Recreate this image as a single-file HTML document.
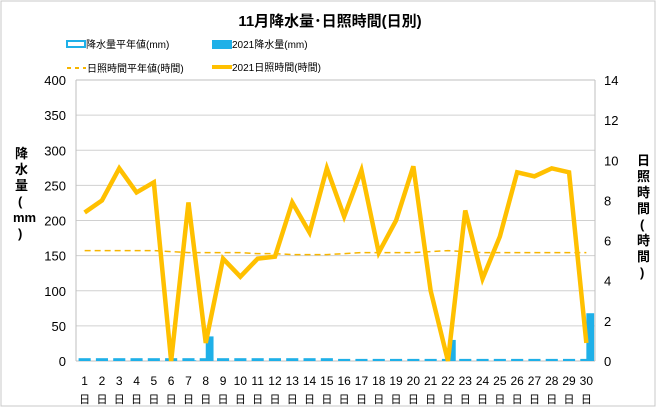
<!DOCTYPE html>
<html><head><meta charset="utf-8"><style>
body{margin:0;background:#fff;}
svg text{font-family:"Liberation Sans","Noto Sans CJK JP",sans-serif;}
</style></head><body>
<svg width="660" height="408" id="c">
<rect x="1" y="1" width="654" height="405" fill="#fff" stroke="#c8c8c8"/>
<text x="330" y="26" font-size="15" font-weight="bold" text-anchor="middle">11月降水量･日照時間(日別)</text>
<g font-size="10">
<rect x="67" y="41" width="18" height="6" fill="#fff" stroke="#1fb0e8" stroke-width="2"/>
<text x="86" y="48">降水量平年値(mm)</text>
<rect x="212" y="40" width="20" height="9" fill="#1fb0e8"/>
<text x="232" y="48">2021降水量(mm)</text>
<line x1="67" y1="68" x2="86" y2="68" stroke="#f7b500" stroke-width="2" stroke-dasharray="4,4"/>
<text x="87" y="72">日照時間平年値(時間)</text>
<line x1="212" y1="67" x2="232" y2="67" stroke="#ffc000" stroke-width="4"/>
<text x="232" y="71">2021日照時間(時間)</text>
</g>
<text font-size="13" font-weight="bold"><tspan x="15" y="158">降</tspan><tspan x="15" dy="16">水</tspan><tspan x="15" dy="16">量</tspan><tspan x="18" dy="16">(</tspan><tspan x="13" dy="16">mm</tspan><tspan x="18" dy="16">)</tspan></text>
<text font-size="13" font-weight="bold"><tspan x="637" y="165">日</tspan><tspan x="637" dy="16">照</tspan><tspan x="637" dy="16">時</tspan><tspan x="637" dy="16">間</tspan><tspan x="640" dy="16">(</tspan><tspan x="637" dy="16">時</tspan><tspan x="637" dy="16">間</tspan><tspan x="640" dy="16">)</tspan></text>
<g id="plot"></g>
</svg>
<script>
const days=["1","2","3","4","5","6","7","8","9","10","11","12","13","14","15","16","17","18","19","20","21","22","23","24","25","26","27","28","29","30"];
const rainNormal=[4,4,4,4,4,4,4,4,4,4,4,4,4,4,4,3,3,3,3,3,3,3,3,3,3,3,3,3,3,3];
const rain2021=[0,0,0,0,0,0,1,35,0,0,0,0,0,0,0,0,0,0,0,0,0,30,0,0,0,0,0,0,0,68];
const sunNormal=[5.5,5.5,5.5,5.5,5.5,5.45,5.4,5.4,5.4,5.4,5.35,5.35,5.3,5.3,5.3,5.35,5.4,5.4,5.4,5.4,5.45,5.5,5.45,5.4,5.4,5.4,5.4,5.4,5.4,5.4];
const sun2021=[7.4,8.0,9.6,8.4,8.9,0,7.9,0.9,5.1,4.2,5.1,5.2,7.9,6.4,9.6,7.2,9.5,5.4,7.0,9.7,3.5,0,7.5,4.1,6.2,9.4,9.2,9.6,9.4,0.9];
const leftTicks=[0,50,100,150,200,250,300,350,400];
const rightTicks=[0,2,4,6,8,10,12,14];
const L=76,R=595,T=80,B=361,NS="http://www.w3.org/2000/svg";
const bw=(R-L)/days.length;
const xc=i=>L+bw*(i+0.5);
const yL=v=>B-(v/400)*(B-T);
const yR=v=>B-(v/14)*(B-T);
const g=document.getElementById('plot');
function mk(t,a){const e=document.createElementNS(NS,t);for(const k in a)e.setAttribute(k,a[k]);g.appendChild(e);return e;}
leftTicks.forEach(v=>{
  const l=mk('line',{x1:L,x2:R,y1:yL(v),y2:yL(v),stroke:v===400||v===0?'#bfbfbf':'#d0d0d0'});
  
  
  const t=mk('text',{x:L-10,y:yL(v)+5,'font-size':13,'text-anchor':'end'});t.textContent=v;
  
  
});
rightTicks.forEach(v=>{
  const t=mk('text',{x:R+9,y:yR(v)+5,'font-size':13});t.textContent=v;
  
  
});
const ax=mk('line',{x1:L,x2:L,y1:T,y2:B,stroke:'#bfbfbf'});


const ax2=mk('line',{x1:R,x2:R,y1:T,y2:B,stroke:'#bfbfbf'});


days.forEach((d,i)=>{
  const x=xc(i);
  const a=mk('rect',{x:x-bw*0.35,y:yL(rainNormal[i]),width:bw*0.7,height:B-yL(rainNormal[i]),fill:'#1fb0e8'});
  
  
  const b=mk('rect',{x:x,y:yL(rain2021[i]),width:bw*0.45,height:B-yL(rain2021[i]),fill:'#1fb0e8'});
  
  
  const t=mk('text',{x:x,y:385,'font-size':12,'text-anchor':'middle'});t.textContent=d;
  
  
  const t2=mk('text',{x:x,y:403,'font-size':11,'text-anchor':'middle'});t2.textContent='日';
  
  
});
const p1=mk('polyline',{points:sunNormal.map((v,i)=>xc(i)+','+yR(v)).join(' '),fill:'none',stroke:'#f7b500','stroke-width':1.5,'stroke-dasharray':'6,4'});


const p2=mk('polyline',{points:sun2021.map((v,i)=>xc(i)+','+yR(v)).join(' '),fill:'none',stroke:'#ffc000','stroke-width':4.5,'stroke-linejoin':'miter'});


</script>
</body></html>
